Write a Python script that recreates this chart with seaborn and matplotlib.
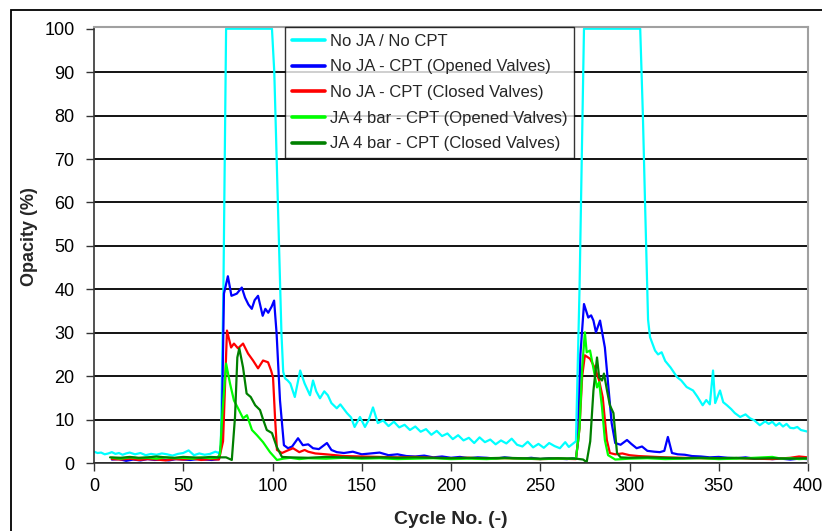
import pandas as pd
import matplotlib.pyplot as plt
import seaborn as sns
from matplotlib.patches import Rectangle

# Series labels and colours
labels = ["No JA / No CPT",
          "No JA - CPT (Opened Valves)",
          "No JA - CPT (Closed Valves)",
          "JA 4 bar - CPT (Opened Valves)",
          "JA 4 bar - CPT (Closed Valves)"]
colors = ["#00FFFF", "#0000FF", "#FF0000", "#00FF00", "#008000"]

# (cycle, opacity)
no_ja_no_cpt = [(0, 2.6), (2, 2.3), (4, 2.4), (6, 2.0), (8, 2.2), (10, 2.5), (12, 2.1), (14, 2.3),
                (16, 1.9), (18, 2.2), (20, 2.4), (23, 2.0), (26, 2.3), (29, 1.8), (32, 2.1), (35, 1.9),
                (38, 2.2), (41, 2.0), (44, 1.7), (47, 2.1), (50, 2.3), (53, 2.9), (56, 1.8), (59, 2.2),
                (62, 1.9), (65, 2.1), (68, 2.6), (70, 2.3), (71, 3.0), (72.5, 40), (74, 100), (99.7, 100),
                (101, 90), (102, 75), (103, 60), (104, 45), (105, 30), (106, 21), (107, 19.5), (108.5, 19),
                (110, 18.3), (112.5, 15.2), (115.5, 21.3), (118, 18.3), (121, 15.6), (122.7, 19),
                (124.5, 16.5), (126.6, 14.9), (129, 16.5), (131, 15.6), (133, 13.8), (136, 12.6),
                (138, 13.5), (141.7, 11.5), (144, 10.5), (146, 8.3), (149, 10.6), (151.8, 8.3), (154, 10),
                (156.3, 12.8), (159, 9.2), (162, 9.8), (165, 8.5), (168, 9.5), (171, 8.2), (174, 8.8),
                (177, 7.6), (180, 8.4), (183, 7.2), (186, 7.8), (189, 6.5), (192, 7.4), (195, 6.2),
                (198, 6.8), (201, 5.5), (204, 6.4), (207, 5.2), (210, 5.8), (213, 4.6), (216, 5.9),
                (219, 4.8), (222, 5.4), (225, 4.3), (228, 5.2), (231, 4.5), (234, 5.6), (237, 4.2),
                (240, 3.8), (243, 4.9), (246, 3.6), (249, 4.4), (252, 3.5), (255, 4.6), (258, 3.9),
                (261, 3.4), (264, 4.8), (266, 3.7), (268.5, 4.5), (270, 5.0), (272, 40), (274.5, 100),
                (306, 100), (307.5, 80), (308.7, 60), (310.4, 33), (311.5, 29), (314.3, 25.9), (316, 25),
                (318, 25.5), (320, 23.5), (323, 22), (326.6, 19.8), (329, 19), (332, 17.5), (335.6, 16.7),
                (338, 15.3), (341, 13.3), (343, 14.5), (345, 13.5), (346.8, 21.3), (348, 13.8),
                (350.7, 16.7), (352.5, 14), (354.6, 13.3), (357, 12.4), (359, 11.5), (362, 10.6),
                (365, 11.2), (367.5, 10.3), (370, 9.8), (373, 8.7), (376, 9.6), (378, 9.0), (380, 9.5),
                (382, 8.6), (384, 9.2), (386, 8.4), (388, 9.0), (390, 8.1), (392, 8.0), (394, 8.3),
                (396, 7.6), (398, 7.4), (400, 7.2)]

no_ja_opened = [(10, 0.8), (14, 0.9), (18, 0.5), (22, 0.8), (26, 0.6), (30, 0.9), (34, 0.7), (38, 0.8),
                (42, 0.6), (46, 0.9), (50, 0.8), (54, 0.7), (58, 0.9), (62, 0.8), (66, 0.7), (70, 0.9),
                (71.5, 5), (72.8, 39), (75, 43), (77, 38.5), (80, 39), (82.8, 40.4), (84.6, 38.1),
                (86.5, 36.5), (88.4, 35.5), (90, 37.5), (91.9, 38.5), (94.5, 33.9), (96, 35.5),
                (97.6, 34.6), (99.5, 36), (100.9, 37.4), (102.3, 29.8), (104.2, 14.4), (106.4, 4.1),
                (108.7, 3.4), (111, 3.8), (114.3, 5.7), (117, 4.1), (120, 4.3), (122.7, 3.4), (126, 3.2),
                (130.5, 4.6), (133, 3.0), (136, 2.5), (140, 2.3), (145, 2.6), (150, 2.0), (155, 2.2),
                (160, 2.4), (165, 1.8), (170, 2.0), (175, 1.6), (180, 1.5), (185, 1.7), (190, 1.3),
                (195, 1.5), (200, 1.2), (205, 1.4), (210, 1.1), (215, 1.3), (220, 1.2), (225, 1.0),
                (230, 1.3), (235, 1.1), (240, 1.0), (245, 1.2), (250, 0.9), (255, 1.1), (260, 1.0),
                (265, 0.9), (268, 1.1), (270, 1.0), (271.2, 5), (272.5, 25), (274.5, 36.6), (276.9, 33.5),
                (278.5, 34), (279.8, 32.8), (281.2, 30.1), (283.5, 32.8), (286.2, 26.6), (288, 18.3),
                (290, 9.2), (292, 4.6), (295, 4.2), (298.6, 5.3), (301, 4.4), (304, 3.4), (307, 3.8),
                (310, 2.8), (314, 2.6), (317, 2.5), (319.5, 2.8), (321.5, 6), (323.8, 2.3), (327, 2.0),
                (331, 1.9), (335, 1.6), (340, 1.5), (345, 1.3), (350, 1.4), (355, 1.2), (360, 1.1),
                (365, 1.3), (370, 1.0), (375, 1.1), (380, 0.9), (385, 1.0), (390, 0.8), (395, 1.0),
                (400, 0.9)]

no_ja_closed = [(10, 0.9), (15, 0.8), (20, 1.0), (25, 0.7), (30, 0.9), (35, 0.8), (40, 0.6), (45, 0.9),
                (50, 0.8), (55, 1.0), (60, 0.7), (65, 0.9), (70, 0.8), (72.3, 5), (74.5, 30.5),
                (76.8, 26.6), (78.4, 27.5), (80.7, 26.4), (83.5, 27.5), (86.3, 25.2), (89.1, 23.6),
                (91.9, 21.8), (94.7, 23.6), (97.5, 23.2), (99.2, 21.3), (100.3, 19.7), (101.4, 10.6),
                (102.5, 3.0), (105.3, 2.3), (108, 2.8), (111.5, 3.4), (115, 2.5), (118, 3.0), (120, 2.6),
                (124, 2.2), (130, 2.0), (135, 1.8), (140, 1.6), (150, 1.5), (160, 1.4), (170, 1.3),
                (180, 1.4), (190, 1.2), (200, 1.1), (210, 1.2), (220, 1.0), (230, 1.1), (240, 1.0),
                (250, 0.9), (260, 1.0), (270, 0.9), (272, 8), (273.5, 20), (275, 24.8), (277.9, 24),
                (280.7, 21.8), (283, 19), (285, 15.1), (287.3, 5.3), (289, 2.3), (292, 2.0), (296, 2.2),
                (300, 1.8), (305, 1.6), (310, 1.5), (320, 1.3), (330, 1.2), (340, 1.1), (350, 1.0),
                (360, 1.1), (370, 1.0), (380, 0.9), (390, 1.2), (395, 1.5), (400, 1.3)]

ja_opened = [(10, 1.2), (15, 1.0), (20, 1.3), (25, 1.1), (30, 1.2), (35, 1.0), (40, 1.3), (45, 1.1),
             (50, 1.2), (55, 1.0), (60, 1.3), (65, 1.1), (69, 1.2), (70.6, 2), (72, 12), (74, 22.9),
             (76.2, 18.3), (78.4, 14.4), (80.7, 12.6), (83.5, 10.3), (85.7, 11), (88.5, 7.6),
             (91.3, 6.4), (94.7, 4.8), (98.6, 2.5), (102.5, 0.7), (106, 1.0), (110, 1.2), (115, 0.9),
             (120, 1.1), (130, 1.0), (140, 1.2), (150, 1.0), (160, 1.1), (170, 0.9), (180, 1.0),
             (190, 1.1), (200, 0.9), (210, 1.0), (220, 0.9), (230, 1.1), (240, 1.0), (250, 0.9),
             (260, 1.0), (270, 1.0), (272, 8), (273.5, 22), (275, 30.1), (276, 25.5), (277.9, 25.9),
             (279.7, 22), (281.8, 17.4), (283, 18.6), (284.6, 12.8), (286.2, 5.3), (288, 1.8),
             (292, 0.8), (300, 1.0), (310, 1.1), (320, 0.9), (330, 1.0), (340, 1.1), (350, 0.9),
             (360, 1.0), (370, 1.2), (380, 1.4), (385, 1.0), (390, 1.1), (395, 0.9), (400, 1.0)]

ja_closed = [(9, 1.3), (15, 1.2), (20, 1.4), (25, 1.2), (30, 1.3), (35, 1.5), (40, 1.3), (45, 1.2),
             (50, 1.4), (55, 1.3), (60, 1.2), (65, 1.4), (70, 1.3), (74, 1.3), (77.2, 0.7), (79, 10.6),
             (80.3, 24.3), (81.4, 26.4), (83.5, 22), (85.5, 16), (87.8, 15.2), (90.3, 13.3), (93, 12.2),
             (94.5, 10.3), (96.8, 7.6), (99.7, 6.9), (102.4, 3.7), (105.3, 1.4), (110, 1.3), (120, 1.2),
             (130, 1.4), (140, 1.3), (150, 1.2), (160, 1.3), (170, 1.2), (180, 1.3), (190, 1.2),
             (200, 1.1), (210, 1.2), (220, 1.1), (230, 1.2), (240, 1.1), (250, 1.0), (260, 1.1),
             (270, 1.0), (274, 0.8), (276, 0.2), (278, 5), (279.8, 16.7), (281.8, 24.3), (283, 19.7),
             (284.6, 19), (285.7, 20.6), (287.4, 16.7), (289, 13.3), (291, 11.5), (292, 6.9),
             (293, 2.3), (295, 1.3), (300, 1.2), (310, 1.3), (320, 1.2), (330, 1.1), (340, 1.2),
             (350, 1.1), (360, 1.2), (370, 1.0), (380, 1.1), (390, 1.0), (400, 1.1)]

series = [no_ja_no_cpt, no_ja_opened, no_ja_closed, ja_opened, ja_closed]

# long-form table for seaborn
frames = []
for lab, pts in zip(labels, series):
    d = pd.DataFrame(pts, columns=["cycle", "opacity"])
    d["series"] = lab
    frames.append(d)
df = pd.concat(frames, ignore_index=True)

sns.set_theme(style="white")
plt.rcParams['font.family'] = ['Liberation Sans', 'DejaVu Sans']

fig = plt.figure(figsize=(8.22, 5.31), dpi=100)
ax = fig.add_axes([94/822, 68/531, 714/822, 436/531])

sns.lineplot(data=df, x="cycle", y="opacity", hue="series", hue_order=labels,
             palette=colors, linewidth=1.6, estimator=None, sort=False, ax=ax)

ax.set_xlim(0, 400)
ax.set_ylim(0, 100.4)
ax.set_xticks(range(0, 401, 50))
ax.set_yticks(range(0, 101, 10))
ax.yaxis.grid(True, color="black", linewidth=1.3)
ax.yaxis.get_gridlines()[-1].set_visible(False)  # top edge is the grey frame
ax.set_axisbelow(True)

for side in ["left", "bottom"]:
    ax.spines[side].set_color("#333333")
    ax.spines[side].set_linewidth(1.2)
for side in ["top", "right"]:
    ax.spines[side].set_color("#a0a0a0")
    ax.spines[side].set_linewidth(1.5)
    ax.spines[side].set_zorder(3)

ax.tick_params(axis="y", left=True, length=6, width=1, color="#333333", pad=8, labelsize=13)
ax.tick_params(axis="x", bottom=True, length=6, width=1, color="#333333", pad=5, labelsize=13)
for t in ax.get_xticklabels() + ax.get_yticklabels():
    t.set_color("black")

ax.set_xlabel("Cycle No. (-)", fontsize=14, fontweight="bold", labelpad=11)
ax.set_ylabel("Opacity (%)", fontsize=13, fontweight="bold")
ax.yaxis.set_label_coords(-0.078, 0.52)

leg = ax.legend(loc="upper left", bbox_to_anchor=(0.2675, 1.0), borderaxespad=0,
                fontsize=12, frameon=True, fancybox=False, edgecolor="black",
                handlelength=2.0, handletextpad=0.3, labelspacing=0.64, borderpad=0.4)
leg.get_frame().set_linewidth(1.0)
for line in leg.get_lines():
    line.set_linewidth(2.6)

# outer frame of the figure
fig.patches.append(Rectangle((11/822, -0.1), 1.2, 1.1 - 10/531, transform=fig.transFigure,
                             fill=False, edgecolor="black", linewidth=1.3))

fig.savefig("out.png", dpi=100)
